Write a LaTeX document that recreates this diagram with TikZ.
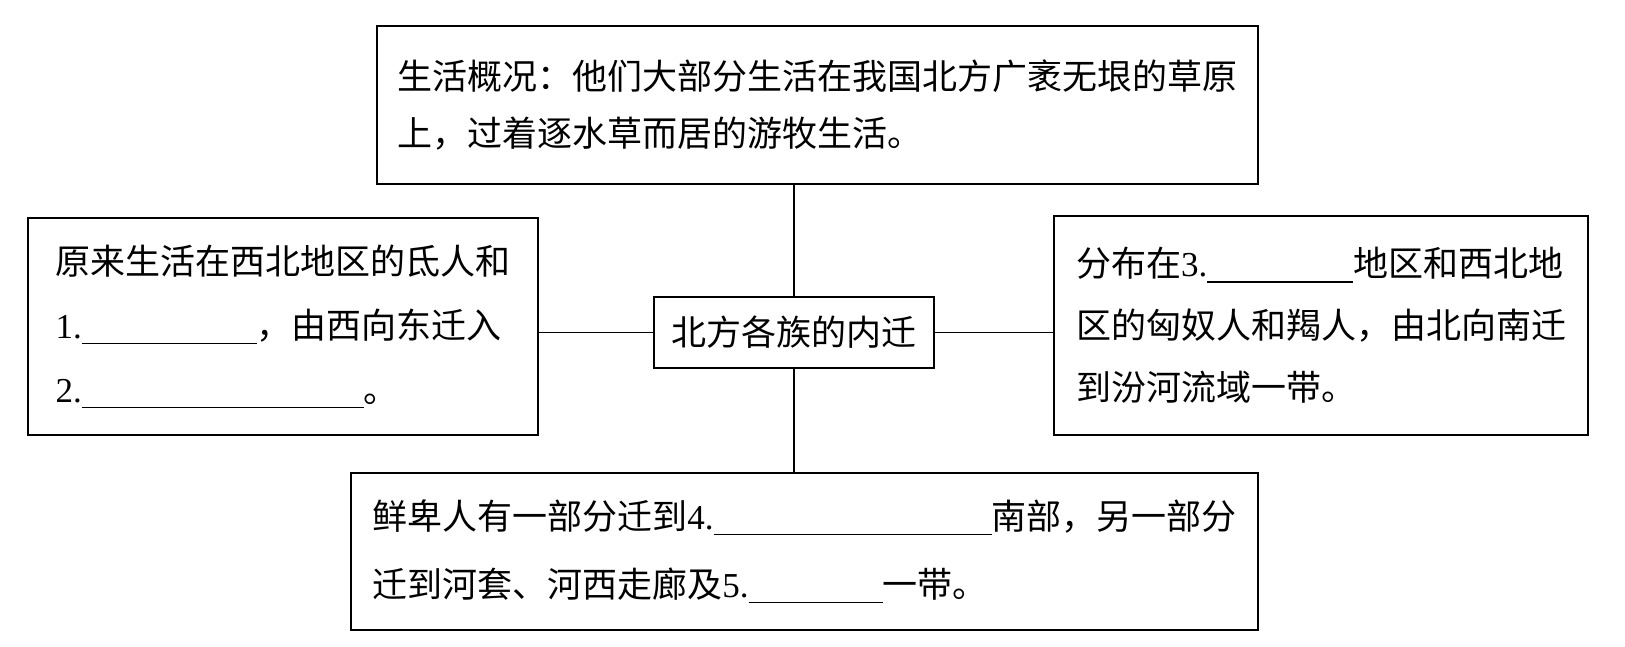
\documentclass[tikz,border=0pt]{standalone}
\usepackage{fontspec}
\setmainfont{Liberation Serif}
\newfontfamily\cjk{Noto Sans CJK SC}
\newcommand{\fillin}[2]{{\rmfamily #1.}\rule[-6pt]{#2}{1.4pt}}

\begin{document}
\begin{tikzpicture}[
  x=1pt, y=-1pt,
  box/.style={draw=black, line width=1.5pt, align=left, inner sep=0pt, font=\cjk\fontsize{35}{64}\selectfont},
  link/.style={draw=black, line width=1.5pt}
]
\useasboundingbox (0,0) rectangle (1625,647);

% centre and the four boxes round it
\node[box, minimum width=280pt, minimum height=71pt] (centre) at (794,332.5) {北方各族的内迁};
\node[box, minimum width=881pt, minimum height=158pt, font=\cjk\fontsize{35}{57}\selectfont] (top) at (817.5,105)
  {生活概况：他们大部分生活在我国北方广袤无垠的草原\\上，过着逐水草而居的游牧生活。};
\node[box, minimum width=510pt, minimum height=217pt] (left) at (283,326.5)
  {原来生活在西北地区的氐人和\\\fillin{1}{175pt}，由西向东迁入\\\fillin{2}{282pt}。};
\node[box, minimum width=534pt, minimum height=219pt, font=\cjk\fontsize{35}{62}\selectfont] (right) at (1321,325.5)
  {分布在\fillin{3}{146pt}地区和西北地\\区的匈奴人和羯人，由北向南迁\\到汾河流域一带。};
\node[box, minimum width=907pt, minimum height=157pt, font=\cjk\fontsize{35}{68}\selectfont] (bottom) at (804.5,551.5)
  {鲜卑人有一部分迁到\fillin{4}{278pt}南部，另一部分\\迁到河套、河西走廊及\fillin{5}{134pt}一带。};

% connectors
\draw[link] (centre.north) -- (centre.north |- top.south);
\draw[link] (centre.south) -- (centre.south |- bottom.north);
\draw[link] (centre.west) -- (centre.west -| left.east);
\draw[link] (centre.east) -- (centre.east -| right.west);

\end{tikzpicture}
\end{document}
